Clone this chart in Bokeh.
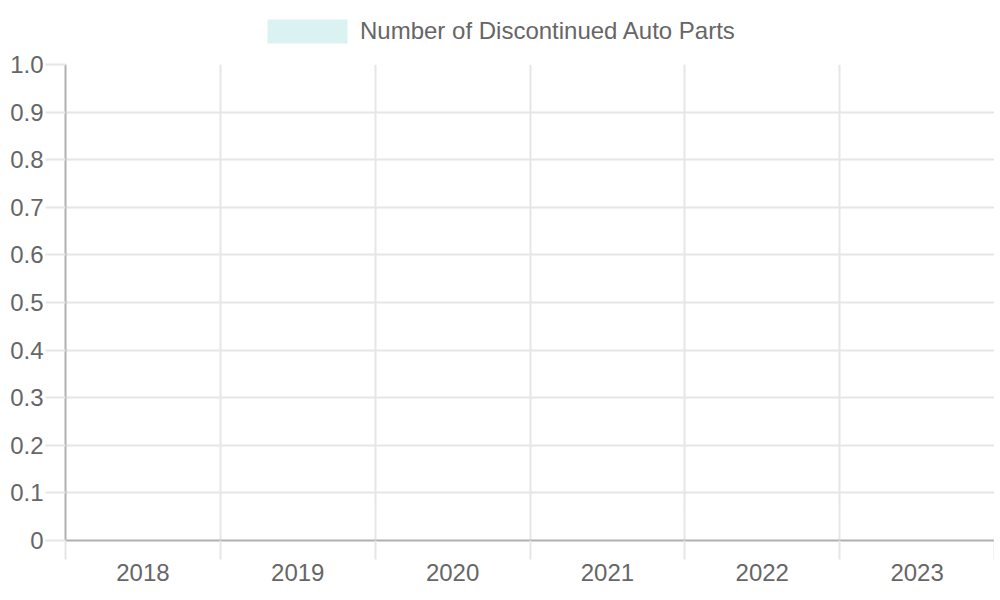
from bokeh.plotting import figure
from bokeh.layouts import column
from bokeh.models import Range1d, FixedTicker, Legend, LegendItem
from bokeh.embed import file_html
from bokeh.resources import INLINE

# ---- data ----
years = ["2018", "2019", "2020", "2021", "2022", "2023"]
discontinued_parts = [0, 0, 0, 0, 0, 0]
series_name = "Number of Discontinued Auto Parts"
y_ticks = [round(i * 0.1, 1) for i in range(11)]
y_labels = ["0", "0.1", "0.2", "0.3", "0.4", "0.5", "0.6", "0.7", "0.8", "0.9", "1.0"]

FONT = "Liberation Sans"
TEXT = "#666666"
GRID = "#e6e6e6"
AXIS = "#b0b0b0"
BAR = "#dbf2f2"

n = len(years)
centers = [i + 0.5 for i in range(n)]
bounds = [float(i) for i in range(n + 1)]

# ---- main chart ----
p = figure(width=994, height=552, output_backend="svg", toolbar_location=None,
           x_range=Range1d(0, n), y_range=Range1d(0, 1),
           min_border_left=65, min_border_right=0, min_border_top=16, min_border_bottom=60)
p.outline_line_color = None
p.background_fill_color = "white"

r = p.vbar(x=centers, top=discontinued_parts, bottom=0, width=0.8,
           fill_color=BAR, line_color=None)

xa = p.xaxis[0]
xa.ticker = FixedTicker(ticks=centers, minor_ticks=bounds)
xa.major_label_overrides = {c: y for c, y in zip(centers, years)}
xa.major_tick_line_color = None
xa.major_tick_in = 0
xa.major_tick_out = 0
xa.minor_tick_in = 0
xa.minor_tick_out = 19
xa.minor_tick_line_color = GRID
xa.minor_tick_line_width = 2
xa.axis_line_color = AXIS
xa.axis_line_width = 2
xa.major_label_standoff = 4
xa.major_label_text_font = FONT
xa.major_label_text_font_size = "24px"
xa.major_label_text_color = TEXT

ya = p.yaxis[0]
ya.ticker = FixedTicker(ticks=y_ticks)
ya.major_label_overrides = {t: l for t, l in zip(y_ticks, y_labels)}
ya.minor_tick_line_color = None
ya.major_tick_in = 0
ya.major_tick_out = 20
ya.major_tick_line_color = GRID
ya.major_tick_line_width = 2
ya.axis_line_color = AXIS
ya.axis_line_width = 2
ya.major_label_standoff = 2
ya.major_label_text_font = FONT
ya.major_label_text_font_size = "24px"
ya.major_label_text_color = TEXT

p.xgrid.ticker = FixedTicker(ticks=bounds)
p.xgrid.grid_line_color = GRID
p.xgrid.grid_line_width = 2
p.ygrid.ticker = FixedTicker(ticks=y_ticks)
p.ygrid.grid_line_color = GRID
p.ygrid.grid_line_width = 2

# ---- legend strip above the chart ----
lg = figure(width=994, height=48, output_backend="svg", toolbar_location=None,
            x_range=Range1d(0, n), y_range=Range1d(0, 1),
            min_border=0, x_axis_type=None, y_axis_type=None)
lg.outline_line_color = None
lg.xgrid.visible = False
lg.ygrid.visible = False
lr = lg.vbar(x=centers, top=discontinued_parts, bottom=0, width=0.8,
             fill_color=BAR, line_color=None)
legend = Legend(items=[LegendItem(label=series_name, renderers=[lr])],
                orientation="horizontal", location=(192, 2),
                glyph_width=100, glyph_height=30, label_standoff=3,
                label_text_font=FONT, label_text_font_size="24px",
                label_text_color=TEXT, border_line_color=None,
                background_fill_alpha=0, padding=0, margin=0, spacing=0,
                label_height=30)
lg.add_layout(legend, "center")

layout = column(lg, p, spacing=0)
open("out.html", "w").write(file_html(layout, INLINE))
